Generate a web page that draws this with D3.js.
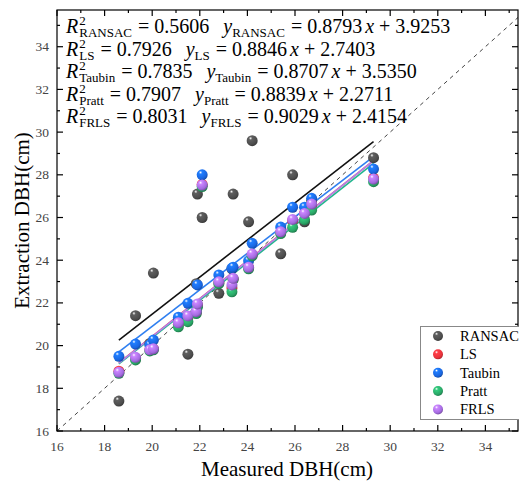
<!DOCTYPE html>
<html>
<head>
<meta charset="utf-8">
<script src="https://cdn.jsdelivr.net/npm/d3@7/dist/d3.min.js"></script>
<style>
  body { margin: 0; background: #fff; }
  svg text { font-family: "Liberation Serif", "Times New Roman", serif; }
</style>
</head>
<body>
<svg id="chart" width="519" height="482"></svg>
<script>
// Measured DBH of each tree (cm)
const measured = [18.6, 19.3, 19.9, 20.05, 21.1, 21.5, 21.85, 21.9, 22.1, 22.8, 23.35, 23.4, 24.05, 24.2, 25.4, 25.9, 26.4, 26.7, 29.3];

// Extracted DBH per method (cm)
const ransac = [17.4, 21.4, 20.1, 23.4, 21.25, 19.6, 22.9, 27.1, 26.0, 22.45, 23.6, 27.1, 25.8, 29.6, 24.3, 28.0, 25.8, 26.8, 28.8];
const ls     = [18.8, 19.4, 19.8, 19.85, 21.0, 21.3, 21.55, 21.9, 27.55, 22.95, 22.7, 23.12, 23.65, 24.25, 25.3, 25.85, 26.2, 26.6, 27.85];
const taubin = [19.5, 20.07, 20.03, 20.26, 21.33, 21.98, 21.62, 22.84, 28.0, 23.31, 23.62, 23.67, 23.97, 24.79, 25.55, 26.48, 26.48, 26.9, 28.27];
const pratt  = [18.7, 19.33, 19.75, 19.8, 20.88, 21.12, 21.5, 21.8, 27.45, 22.9, 22.52, 23.1, 23.6, 24.2, 25.25, 25.54, 25.9, 26.35, 27.68];
const frls   = [18.75, 19.45, 19.8, 19.85, 21.07, 21.39, 21.59, 21.95, 27.52, 22.99, 22.84, 23.15, 23.67, 24.29, 25.33, 25.91, 26.19, 26.63, 27.8];

const methods = ['RANSAC', 'LS', 'Taubin', 'Pratt', 'FRLS'];
const methodValues = [ransac, ls, taubin, pratt, frls];

// fitted lines, read at both ends of the measured range
const fitX = [18.6, 29.3];
const fitStart = [20.26, 19.19, 19.71, 19.14, 19.18];
const fitEnd = [29.55, 28.66, 28.85, 28.54, 28.66];

// equation text
const r2Labels = ['0.5606', '0.7926', '0.7835', '0.7907', '0.8031'];
const slopeLabels = ['0.8793', '0.8846', '0.8707', '0.8839', '0.9029'];
const interceptLabels = ['3.9253', '2.7403', '3.5350', '2.2711', '2.4154'];

const xTicks = [16, 18, 20, 22, 24, 26, 28, 30, 32, 34];
const yTicks = [16, 18, 20, 22, 24, 26, 28, 30, 32, 34];

const pointColors = ['#4d4d4d', '#e8323a', '#1a66e0', '#2aa566', '#a46be0'];
const lineColors = ['#111111', '#e8323a', '#2f7ff0', '#22b58e', '#b483ec'];

const svg = d3.select('#chart');
const pLeft = 57, pRight = 518, pTop = 10, pBottom = 431;

const xScale = d3.scaleLinear().domain([16, 35.37]).range([pLeft, pRight]);
const yScale = d3.scaleLinear().domain([16, 35.72]).range([pBottom, pTop]);

// sphere gradients
const defs = svg.append('defs');
pointColors.forEach((c, i) => {
    let g = defs.append('radialGradient')
        .attr('id', 'ball' + i)
        .attr('cx', '38%').attr('cy', '32%').attr('r', '70%')
        .attr('fx', '35%').attr('fy', '28%');
    g.append('stop').attr('offset', '0%').attr('stop-color', '#ffffff');
    g.append('stop').attr('offset', '22%').attr('stop-color', d3.color(c).brighter(0.6));
    g.append('stop').attr('offset', '75%').attr('stop-color', c);
    g.append('stop').attr('offset', '100%').attr('stop-color', d3.color(c).darker(0.9));
});

const clip = defs.append('clipPath').attr('id', 'plotClip');
clip.append('rect').attr('x', pLeft).attr('y', pTop).attr('width', pRight - pLeft).attr('height', pBottom - pTop);

const plot = svg.append('g').attr('clip-path', 'url(#plotClip)');

// 1:1 reference line
plot.append('line')
    .attr('x1', xScale(16)).attr('y1', yScale(16))
    .attr('x2', xScale(36)).attr('y2', yScale(36))
    .attr('stroke', '#444').attr('stroke-width', 1)
    .attr('stroke-dasharray', '4,4');

// fitted lines
methods.forEach((m, i) => {
    plot.append('line')
        .attr('x1', xScale(fitX[0])).attr('y1', yScale(fitStart[i]))
        .attr('x2', xScale(fitX[1])).attr('y2', yScale(fitEnd[i]))
        .attr('stroke', lineColors[i]).attr('stroke-width', 1.6);
});

// points
methods.forEach((m, i) => {
    plot.append('g').selectAll('circle')
        .data(methodValues[i])
        .enter()
        .append('circle')
        .attr('cx', (d, j) => xScale(measured[j]))
        .attr('cy', d => yScale(d))
        .attr('r', 5.5)
        .attr('fill', 'url(#ball' + i + ')');
});

// frame
svg.append('rect')
    .attr('x', pLeft).attr('y', pTop)
    .attr('width', pRight - pLeft).attr('height', pBottom - pTop)
    .attr('fill', 'none').attr('stroke', '#000').attr('stroke-width', 1.2);

// ticks, pointing inward
const minorX = d3.range(17, 36, 2);
const minorY = d3.range(17, 36, 2);
const tickG = svg.append('g').attr('stroke', '#000').attr('stroke-width', 1.2);
xTicks.forEach(t => {
    tickG.append('line').attr('x1', xScale(t)).attr('x2', xScale(t)).attr('y1', pBottom).attr('y2', pBottom - 6);
    tickG.append('line').attr('x1', xScale(t)).attr('x2', xScale(t)).attr('y1', pTop).attr('y2', pTop + 6);
});
minorX.forEach(t => {
    if (xScale(t) > pRight) return;
    tickG.append('line').attr('x1', xScale(t)).attr('x2', xScale(t)).attr('y1', pBottom).attr('y2', pBottom - 3);
    tickG.append('line').attr('x1', xScale(t)).attr('x2', xScale(t)).attr('y1', pTop).attr('y2', pTop + 3);
});
yTicks.forEach(t => {
    tickG.append('line').attr('x1', pLeft).attr('x2', pLeft + 6).attr('y1', yScale(t)).attr('y2', yScale(t));
    tickG.append('line').attr('x1', pRight).attr('x2', pRight - 6).attr('y1', yScale(t)).attr('y2', yScale(t));
});
minorY.forEach(t => {
    if (yScale(t) < pTop) return;
    tickG.append('line').attr('x1', pLeft).attr('x2', pLeft + 3).attr('y1', yScale(t)).attr('y2', yScale(t));
    tickG.append('line').attr('x1', pRight).attr('x2', pRight - 3).attr('y1', yScale(t)).attr('y2', yScale(t));
});

// tick labels
svg.append('g').selectAll('text')
    .data(xTicks).enter().append('text')
    .attr('x', d => xScale(d)).attr('y', 451)
    .attr('text-anchor', 'middle')
    .attr('font-size', 13.5).attr('fill', '#444')
    .text(d => d);
svg.append('g').selectAll('text')
    .data(yTicks).enter().append('text')
    .attr('x', 49).attr('y', d => yScale(d) + 4.5)
    .attr('text-anchor', 'end')
    .attr('font-size', 13.5).attr('fill', '#444')
    .text(d => d);

// axis titles
svg.append('text')
    .attr('x', 287).attr('y', 476)
    .attr('text-anchor', 'middle').attr('font-size', 21)
    .text('Measured DBH(cm)');
svg.append('text')
    .attr('transform', 'translate(29,' + ((pTop + pBottom) / 2) + ') rotate(-90)')
    .attr('text-anchor', 'middle').attr('font-size', 21)
    .text('Extraction DBH(cm)');

// equations, one text per row
const mainSize = 20, subSize = 13, twoWidth = subSize * 0.5;
methods.forEach((m, i) => {
    let t = svg.append('text')
        .attr('x', 66).attr('y', 33 + i * 22.6)
        .attr('font-size', mainSize);
    t.append('tspan').attr('font-style', 'italic').text('R');
    t.append('tspan').attr('font-size', subSize).attr('dx', 1).attr('dy', -8).text('2');
    t.append('tspan').attr('font-size', subSize).attr('dx', -twoWidth).attr('dy', 12).text(m);
    t.append('tspan').attr('dx', 6).attr('dy', -4).text('= ' + r2Labels[i]);
    t.append('tspan').attr('dx', 14).attr('font-style', 'italic').text('y');
    t.append('tspan').attr('font-size', subSize).attr('dy', 4).text(m);
    t.append('tspan').attr('dx', 6).attr('dy', -4).text('= ' + slopeLabels[i]);
    t.append('tspan').attr('dx', 3).attr('font-style', 'italic').text('x');
    t.append('tspan').attr('dx', 5).text('+ ' + interceptLabels[i]);
});

// legend
const leg = svg.append('g');
leg.append('rect')
    .attr('x', 420.5).attr('y', 326.5)
    .attr('width', 110).attr('height', 93)
    .attr('fill', '#fff').attr('stroke', '#888').attr('stroke-width', 1);
methods.forEach((m, i) => {
    let ly = 336 + i * 18.35;
    leg.append('circle')
        .attr('cx', 438).attr('cy', ly).attr('r', 5)
        .attr('fill', 'url(#ball' + i + ')');
    leg.append('text')
        .attr('x', 460).attr('y', ly + 5)
        .attr('font-size', 14.5)
        .text(m);
});
</script>
</body>
</html>
